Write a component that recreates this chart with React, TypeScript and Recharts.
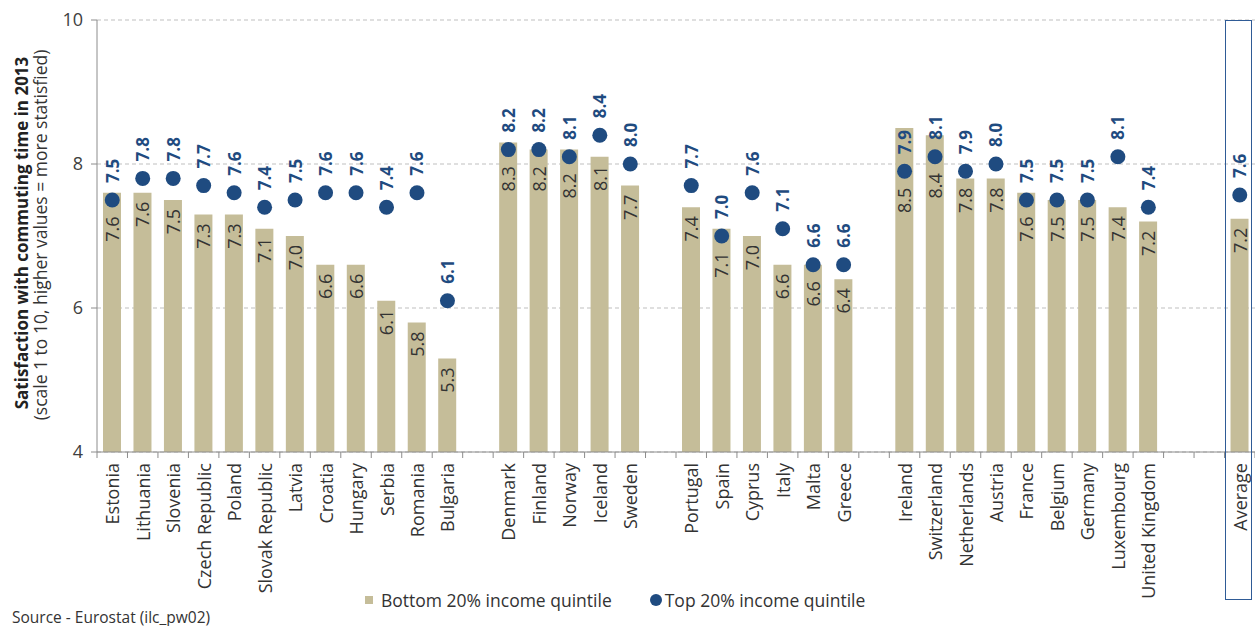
import React from 'react';
import { ComposedChart, Bar, Line, XAxis, YAxis, CartesianGrid, LabelList, Legend } from 'recharts';

// '' entries are the empty slots between country groups
const countries = [
  'Estonia', 'Lithuania', 'Slovenia', 'Czech Republic', 'Poland', 'Slovak Republic', 'Latvia', 'Croatia',
  'Hungary', 'Serbia', 'Romania', 'Bulgaria', '',
  'Denmark', 'Finland', 'Norway', 'Iceland', 'Sweden', '',
  'Portugal', 'Spain', 'Cyprus', 'Italy', 'Malta', 'Greece', '',
  'Ireland', 'Switzerland', 'Netherlands', 'Austria', 'France', 'Belgium', 'Germany', 'Luxembourg', 'United Kingdom', '', '',
  'Average',
];

const bottom20 = [
  7.6, 7.6, 7.5, 7.3, 7.3, 7.1, 7.0, 6.6, 6.6, 6.1, 5.8, 5.3, null,
  8.3, 8.2, 8.2, 8.1, 7.7, null,
  7.4, 7.1, 7.0, 6.6, 6.6, 6.4, null,
  8.5, 8.4, 7.8, 7.8, 7.6, 7.5, 7.5, 7.4, 7.2, null, null,
  7.24,
];

const top20 = [
  7.5, 7.8, 7.8, 7.7, 7.6, 7.4, 7.5, 7.6, 7.6, 7.4, 7.6, 6.1, null,
  8.2, 8.2, 8.1, 8.4, 8.0, null,
  7.7, 7.0, 7.6, 7.1, 6.6, 6.6, null,
  7.9, 8.1, 7.9, 8.0, 7.5, 7.5, 7.5, 8.1, 7.4, null, null,
  7.57,
];

const yTicks = [4, 6, 8, 10];

const data = countries.map((name, i) => ({ id: `c${i}`, name, bottom: bottom20[i], top: top20[i] }));

// bar labels are indexed over drawn bars only (gaps skipped)
const barRows = bottom20.map((v, i) => (v == null ? -1 : i)).filter((i) => i >= 0);

const W = 1255;
const H = 626;
const PLOT_LEFT = 97;
const PLOT_TOP = 20;
const PLOT_BOTTOM = 452;
const BAND = (W - PLOT_LEFT) / countries.length;
const Y_MIN = 4;
const DOT_R = 7.5;

const TAN = '#c5bd99';
const NAVY = '#1f4b80';
const FONT = '"Open Sans", "Noto Sans", sans-serif';

const CountryTick = (props: any) => {
  const { x, index } = props;
  const label = countries[index] ?? '';
  return (
    <g>
      {index === 0 && <line x1={x - BAND / 2} x2={x - BAND / 2} y1={PLOT_BOTTOM} y2={PLOT_BOTTOM + 6} stroke="#8c8c8c" />}
      <line x1={x + BAND / 2} x2={x + BAND / 2} y1={PLOT_BOTTOM} y2={PLOT_BOTTOM + 6} stroke="#8c8c8c" />
      <text
        x={x}
        y={PLOT_BOTTOM + 11}
        transform={`rotate(-90, ${x}, ${PLOT_BOTTOM + 11})`}
        textAnchor="end"
        dominantBaseline="central"
        fontSize={18}
        fill="#333"
        fontFamily={FONT}
      >
        {label}
      </text>
    </g>
  );
};

// value inside the bar top; pushed below the dot when the dot sits on the bar
const BarValue = (props: any) => {
  const { x, y, width, height, value, index } = props;
  if (value == null) return null;
  const cx = x + width / 2;
  const pxPerUnit = height / (value - Y_MIN);
  const row = barRows[index];
  const t = row == null ? null : top20[row];
  const dotY = t == null ? -Infinity : y + height - (t - Y_MIN) * pxPerUnit;
  const ty = Math.max(y + 9, dotY + DOT_R + 9);
  return (
    <text
      x={cx}
      y={ty}
      transform={`rotate(-90, ${cx}, ${ty})`}
      textAnchor="end"
      dominantBaseline="central"
      fontSize={18}
      fill="#333"
      fontFamily={FONT}
    >
      {Number(value).toFixed(1)}
    </text>
  );
};

const DotValue = (props: any) => {
  const { x, y, value } = props;
  if (value == null) return null;
  const ty = y - 17;
  return (
    <text
      x={x}
      y={ty}
      transform={`rotate(-90, ${x}, ${ty})`}
      textAnchor="start"
      dominantBaseline="central"
      fontSize={17}
      fontWeight={700}
      fill={NAVY}
      fontFamily={FONT}
    >
      {Number(value).toFixed(1)}
    </text>
  );
};

const AxisTitle = () => (
  <g fontFamily={FONT} fill="#222">
    <text x={21} y={233} transform="rotate(-90, 21, 233)" textAnchor="middle" dominantBaseline="central" fontSize={17} fontWeight={700}>
      Satisfaction with commuting time in 2013
    </text>
    <text x={40} y={235} transform="rotate(-90, 40, 235)" textAnchor="middle" dominantBaseline="central" fontSize={17.5} fill="#333">
      (scale 1 to 10, higher values = more statisfied)
    </text>
  </g>
);

const LegendBox = () => (
  <div style={{ display: 'flex', alignItems: 'center', fontFamily: FONT, fontSize: 17.5, color: '#333' }}>
    <span style={{ display: 'inline-block', width: 8, height: 8, background: TAN, marginRight: 8 }} />
    <span>Bottom 20% income quintile</span>
    <span style={{ display: 'inline-block', width: 12, height: 12, borderRadius: '50%', background: NAVY, marginLeft: 38, marginRight: 3 }} />
    <span>Top 20% income quintile</span>
  </div>
);

export default function App() {
  return (
    <div style={{ position: 'absolute', left: 0, top: 0, width: W, height: H, background: '#fff' }}>
      <ComposedChart
        width={W}
        height={H}
        data={data}
        margin={{ top: PLOT_TOP, right: 0, bottom: 0, left: 0 }}
        barCategoryGap={0}
      >
        <CartesianGrid vertical={false} stroke="#bfbfbf" strokeDasharray="4 3" />
        <XAxis
          dataKey="id"
          interval={0}
          tickLine={false}
          height={H - PLOT_BOTTOM}
          stroke="#8c8c8c"
          tick={<CountryTick />}
        />
        <YAxis
          domain={[Y_MIN, 10]}
          ticks={yTicks}
          width={PLOT_LEFT}
          stroke="#8c8c8c"
          tickSize={6}
          tickMargin={8}
          tick={{ fontSize: 18, fill: '#404040', fontFamily: FONT }}
          label={{ content: <AxisTitle /> }}
          interval={0}
        />
        <Bar dataKey="bottom" fill={TAN} barSize={18} isAnimationActive={false}>
          <LabelList dataKey="bottom" content={<BarValue />} />
        </Bar>
        <Line
          dataKey="top"
          stroke="none"
          connectNulls={false}
          dot={{ r: DOT_R, fill: NAVY, stroke: 'none' }}
          activeDot={false}
          isAnimationActive={false}
        >
          <LabelList dataKey="top" content={<DotValue />} />
        </Line>
        <Legend
          verticalAlign="middle"
          align="center"
          layout="horizontal"
          content={<LegendBox />}
          wrapperStyle={{ top: 588, left: 365, width: 560 }}
        />
      </ComposedChart>
      <div
        style={{
          position: 'absolute',
          left: PLOT_LEFT + BAND * (countries.length - 1),
          top: PLOT_TOP,
          width: BAND - 3,
          height: 580,
          border: '1.5px solid #2f5b96',
          boxSizing: 'border-box',
        }}
      />
      <div style={{ position: 'absolute', left: 12, top: 606, fontFamily: FONT, fontSize: 15.5, color: '#333' }}>
        Source - Eurostat (ilc_pw02)
      </div>
    </div>
  );
}
